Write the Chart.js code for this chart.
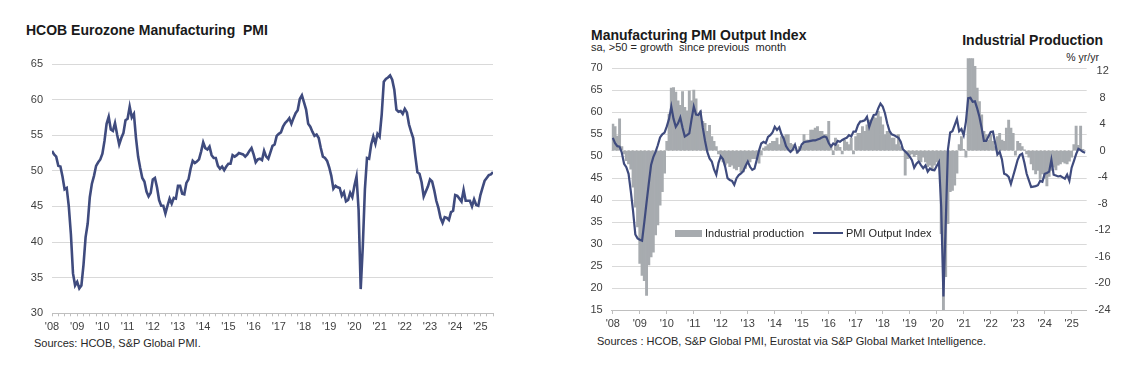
<!DOCTYPE html>
<html lang="en">
<head>
  <meta charset="UTF-8">
  <title>Eurozone Manufacturing PMI</title>
  <script src="https://cdn.jsdelivr.net/npm/chart.js"></script>
  <style>
    body { margin: 0; background: #fff; font-family: "Liberation Sans", Arial, sans-serif; color: #1a1a1a; }
    #page { position: relative; width: 1141px; height: 377px; overflow: hidden; background: #fff; }
    .txt { position: absolute; white-space: pre; }
    .title { font-size: 14px; font-weight: bold; line-height: 14px; }
    .small { font-size: 11px; line-height: 11px; color: #262626; }
    canvas { position: absolute; }
    #pmiChart { left: 0; top: 50px; }
    #outChart { left: 560px; top: 50px; }
    .legBox { position: absolute; left: 675px; top: 230px; width: 27px; height: 7px; background: #a7abaf; }
    .legLine { position: absolute; left: 813px; top: 232px; width: 30px; height: 2px; background: #3f4b7e; }
  </style>
</head>
<body>
<div id="page">
  <div class="txt title" style="left:26px; top:23px;">HCOB Eurozone Manufacturing  PMI</div>
  <div class="txt small" style="left:34px; top:338px;">Sources: HCOB, S&amp;P Global PMI.</div>

  <div class="txt title" style="left:591px; top:28px;">Manufacturing PMI Output Index</div>
  <div class="txt small" style="left:591px; top:42px;">sa, &gt;50 = growth  since previous  month</div>
  <div class="txt title" style="right:38px; top:33px;">Industrial Production</div>
  <div class="txt small" style="right:42px; top:52px; font-size:10.5px;">% yr/yr</div>
  <div class="txt small" style="left:597px; top:336px;">Sources : HCOB, S&amp;P Global PMI, Eurostat via S&amp;P Global Market Intelligence.</div>

  <canvas id="pmiChart" width="520" height="300"></canvas>
  <canvas id="outChart" width="581" height="290"></canvas>

  <div class="legBox"></div>
  <div class="txt small" style="left:705px; top:228px;">Industrial production</div>
  <div class="legLine"></div>
  <div class="txt small" style="left:846px; top:228px;">PMI Output Index</div>
</div>

<script>
  // monthly, Jan 2008 onwards
  const years = ["'08", "'09", "'10", "'11", "'12", "'13", "'14", "'15", "'16",
                 "'17", "'18", "'19", "'20", "'21", "'22", "'23", "'24", "'25"];

  // HCOB Eurozone Manufacturing PMI (Jan 2008 - Jul 2025)
  const pmi = [
    52.8, 52.3, 52.0, 50.7, 50.6, 49.2, 47.4, 47.6, 45.0, 41.1, 35.6, 33.9,
    34.4, 33.5, 33.9, 36.8, 40.7, 42.6, 46.3, 48.2, 49.3, 50.7, 51.2, 51.6,
    52.4, 54.2, 56.6, 57.6, 55.8, 55.6, 56.7, 55.1, 53.7, 54.6, 55.3, 57.1,
    57.3, 59.0, 57.5, 58.0, 54.6, 52.0, 50.4, 49.0, 48.5, 47.1, 46.4, 46.9,
    48.8, 49.0, 47.7, 45.9, 45.1, 45.1, 44.0, 45.1, 46.1, 45.4, 46.2, 46.1,
    47.9, 47.9, 46.8, 46.7, 48.3, 48.8, 50.3, 51.4, 51.1, 51.3, 51.6, 52.7,
    54.0, 53.2, 53.0, 53.4, 52.2, 51.8, 51.8, 50.7, 50.3, 50.6, 50.1, 50.6,
    51.0, 51.0, 52.2, 52.0, 52.2, 52.5, 52.4, 52.3, 52.0, 52.3, 52.8, 53.2,
    52.3, 51.2, 51.6, 51.7, 51.5, 52.8, 52.0, 51.7, 52.6, 53.5, 53.7, 54.9,
    55.2, 55.4, 56.2, 56.7, 57.0, 57.4, 56.6, 57.4, 58.1, 58.5, 60.1, 60.6,
    59.6, 58.6, 56.6, 56.2, 55.5, 54.9, 55.1, 54.6, 53.2, 52.0, 51.8, 51.4,
    50.5, 49.3, 47.5, 47.9, 47.7, 47.6, 46.5, 47.0, 45.7, 45.9, 46.9, 46.3,
    47.9, 49.2, 44.5, 33.4, 39.4, 47.4, 51.8, 51.7, 53.7, 54.8, 53.8, 55.2,
    54.8, 57.9, 62.5, 62.9, 63.1, 63.4, 62.8, 61.4, 58.6, 58.3, 58.4, 58.0,
    58.7, 58.2, 56.5, 55.5, 54.6, 52.1, 49.8, 49.6, 48.4, 46.4, 47.1, 47.8,
    48.8, 48.5, 47.3, 45.8, 44.8, 43.4, 42.7, 43.5, 43.4, 43.1, 44.2, 44.4,
    46.6, 46.5, 46.1, 45.7, 47.3, 45.8, 45.8, 45.8, 45.0, 46.0, 45.2, 45.1,
    46.6, 47.6, 48.6, 49.0, 49.4, 49.5, 49.8
  ];

  // Manufacturing PMI Output Index (Jan 2008 - Jul 2025)
  const pmiOutput = [
    54.2, 53.0, 52.3, 52.2, 50.8, 48.3, 47.5, 46.0, 42.0, 37.5, 32.2, 31.3,
    31.0, 30.8, 35.0, 39.5, 43.8, 48.0, 49.8, 51.0, 52.5, 54.3, 55.0, 55.4,
    56.8, 58.5, 61.3, 58.5, 56.7, 57.5, 58.8, 56.5, 54.5, 54.8, 55.2, 58.4,
    61.3, 59.5, 59.4, 60.1, 56.5, 53.5, 51.0, 49.5, 48.8, 47.0, 45.8, 48.5,
    50.0, 49.3, 47.5, 45.0, 44.6, 44.4, 43.5, 45.0, 45.7, 46.1, 46.6, 47.8,
    48.8, 47.6, 46.9, 47.2, 49.2, 51.3, 52.9, 53.3, 53.0, 54.4, 54.8, 55.4,
    56.7, 56.0, 56.6, 55.0, 54.0, 52.3, 51.5, 51.0, 51.5, 52.6, 50.9, 51.4,
    52.7, 53.2, 53.3, 53.4, 53.5, 53.6, 53.6, 53.8, 54.0, 54.3, 54.5, 54.3,
    53.0, 52.2, 52.9, 52.6, 53.5, 53.3, 53.7, 54.0, 54.2, 54.8, 54.5, 55.6,
    55.6, 57.1, 57.9, 58.0, 58.2, 59.0, 56.7, 58.2, 59.4, 59.5, 60.9, 62.0,
    61.3, 59.8, 57.5, 55.8, 55.0, 54.8, 54.5, 54.2, 53.3, 51.6, 51.1, 50.6,
    49.9, 49.1, 47.4, 48.3, 48.8, 48.0, 47.3, 47.9, 46.5, 47.2, 46.9, 46.8,
    47.8, 48.7, 38.5, 18.1, 34.5, 51.5, 55.4, 55.7, 57.1, 58.5, 55.7, 56.2,
    54.8, 57.9, 63.2, 63.3, 62.4, 62.5, 60.9, 59.0, 56.4, 53.5, 53.5, 54.5,
    55.5, 55.6, 53.0, 50.4, 51.0, 49.3, 46.0, 45.8, 45.3, 43.7, 45.5, 47.3,
    49.2, 50.3, 50.6, 48.5, 46.0, 44.5, 43.0, 43.1, 43.2, 43.4, 44.4, 44.2,
    46.0, 46.2, 46.5, 49.2, 45.8, 45.6, 45.4, 45.5, 45.2, 44.9, 45.8, 44.4,
    47.4, 48.9, 50.5, 51.7, 51.4, 51.0, 50.8
  ];

  // Industrial production, % yr/yr (Jan 2008 - Jun 2025)
  const indProd = [
    4.0, 3.6, 2.2, 4.8, 0.6, -0.5, -1.5, -2.0, -2.8, -5.5, -8.5, -11.5,
    -17.0, -18.8, -19.6, -21.8, -17.2, -16.0, -15.3, -12.7, -11.2, -8.2, -6.2, -3.4,
    1.4, 5.5, 9.4, 9.5, 8.8, 7.5, 6.8, 8.9, 6.5, 6.0, 9.0, 7.5,
    9.1, 7.8, 5.4, 6.0, 4.4, 4.1, 2.9, 3.8, 2.1, 1.4, 0.6, -0.5,
    -0.7, -1.7, -2.2, -1.9, -2.4, -2.2, -2.7, -2.9, -2.4, -3.2, -3.2, -2.7,
    -1.7, -1.7, -1.2, -1.2, -1.2, -1.9, -0.7, 0.4, 0.6, 0.9, 1.1, 1.4,
    1.4, 1.9, 0.9, 2.1, 2.1, 2.4, 2.4, 1.1, 0.9, 0.1, -0.4, 0.6,
    0.6, 2.4, 1.6, 1.6, 3.1, 3.1, 3.4, 3.6, 2.9, 2.9, 2.4, 2.4,
    4.4, 0.9, -0.6, 1.9, 0.9, 0.5, -0.5, 1.6, 1.3, 0.9, 1.9, -0.5,
    2.1, 2.6, 2.6, 3.6, 2.9, 3.9, 4.6, 4.6, 5.1, 4.9, 5.9, 5.1,
    3.9, 2.4, 2.9, 2.9, 1.9, 1.9, 0.9, 2.4, 0.6, 0.1, -3.7, -1.2,
    -0.7, -0.5, -0.9, -0.6, -1.4, -1.7, -1.0, -1.7, -2.4, -2.2, -2.9, -2.2,
    -1.7, -2.2, -12.5, -28.0, -19.0, -11.0, -6.2, -6.0, -5.2, -3.4, 0.9, 2.1,
    0.2, -1.0, 14.5, 39.0, 20.5, 12.7, 9.4, 7.4, 5.4, 2.9, 2.4, 1.6,
    2.4, 1.4, 0.6, 2.1, 2.6, 1.6, 1.4, 3.4, 4.6, 3.4, 2.6, -0.7,
    1.4, 1.1, 0.6, 0.1, -0.5, -1.0, -2.0, -2.9, -3.5, -3.0, -4.3, -3.5,
    -4.2, -5.3, -3.9, -3.0, -2.5, -2.9, -2.2, -2.0, -1.7, -1.9, -2.0, -1.6,
    -1.0, 0.9, 3.7, 0.8, 3.7, 0.2
  ];

  const navy = '#3f4b7e';
  const grey = '#a7abaf';
  const gridCol = '#d9d9d9';
  const axisCol = '#bfbfbf';
  const tickCol = '#404040';

  Chart.defaults.font.family = '"Liberation Sans", Arial, sans-serif';

  const toPoints = arr => arr.map((v, i) => ({ x: i, y: v }));
  const yearLabel = v => (v % 12 === 0 ? years[v / 12] : '');

  let quarterTicks = [];
  for (let m = 0; m <= 210; m += 3) quarterTicks.push({ value: m });
  let yearTicks = years.map((y, i) => ({ value: i * 12 }));

  // pin a vertical axis to a fixed width and stop it asking for extra room above/below
  function pinY(w) {
    return s => { s.width = w; s.paddingTop = 0; s.paddingBottom = 0; };
  }

  // left: headline PMI
  new Chart(document.getElementById('pmiChart'), {
    type: 'line',
    data: {
      datasets: [{
        data: toPoints(pmi),
        borderColor: navy,
        borderWidth: 2.6,
        pointRadius: 0
      }]
    },
    options: {
      responsive: false,
      animation: false,
      devicePixelRatio: 1,
      layout: { padding: { top: 14, right: 27, left: 0, bottom: 0 } },
      plugins: { legend: { display: false }, tooltip: { enabled: false } },
      scales: {
        x: {
          type: 'linear', min: 0, max: 210, offset: false,
          afterBuildTicks: s => { s.ticks = quarterTicks.map(t => ({ value: t.value })); },
          afterFit: s => { s.height = 36.7; },
          grid: { drawOnChartArea: false, tickLength: 3, color: axisCol },
          border: { color: axisCol },
          ticks: { autoSkip: false, maxRotation: 0, padding: 4, color: tickCol, font: { size: 11 },
                   callback: v => yearLabel(v) }
        },
        y: {
          min: 30, max: 65,
          afterFit: pinY(52),
          ticks: { stepSize: 5, padding: 9, color: tickCol, font: { size: 11 } },
          grid: { color: gridCol, drawTicks: false },
          border: { display: false }
        }
      }
    }
  });

  // right: output index vs industrial production
  new Chart(document.getElementById('outChart'), {
    type: 'line',
    data: {
      datasets: [
        {
          type: 'line',
          data: toPoints(pmiOutput),
          yAxisID: 'y',
          borderColor: navy,
          borderWidth: 2.2,
          pointRadius: 0,
          order: 1
        },
        {
          type: 'bar',
          data: toPoints(indProd),
          yAxisID: 'y1',
          backgroundColor: grey,
          barPercentage: 1,
          categoryPercentage: 1,
          order: 2
        }
      ]
    },
    options: {
      responsive: false,
      animation: false,
      devicePixelRatio: 1,
      layout: { padding: { top: 8.3, right: 0, left: 0, bottom: 0 } },
      plugins: { legend: { display: false }, tooltip: { enabled: false } },
      scales: {
        x: {
          type: 'linear', min: -0.5, max: 210.7, offset: false,
          afterBuildTicks: s => { s.ticks = yearTicks.map(t => ({ value: t.value })); },
          afterFit: s => { s.height = 30; },
          grid: { drawOnChartArea: false, offset: false, tickLength: 4, color: axisCol },
          border: { color: axisCol },
          ticks: { autoSkip: false, maxRotation: 0, padding: 3, color: tickCol, font: { size: 11 },
                   callback: v => yearLabel(v) }
        },
        y: {
          position: 'left', min: 15, max: 72.3,
          afterFit: pinY(51.7),
          ticks: { stepSize: 5, includeBounds: false, padding: 9, color: tickCol, font: { size: 11 } },
          grid: { color: gridCol, drawTicks: false },
          border: { display: false }
        },
        y1: {
          position: 'right', min: -24, max: 13.9,
          afterFit: pinY(54.3),
          ticks: { stepSize: 4, includeBounds: false, padding: 8, crossAlign: 'center',
                   color: tickCol, font: { size: 11 } },
          grid: {
            drawTicks: false,
            color: ctx => (ctx.tick && ctx.tick.value === 0 ? '#c4c4c4' : 'rgba(0,0,0,0)')
          },
          border: { display: false, dash: [2, 2] }
        }
      }
    }
  });
</script>
</body>
</html>
